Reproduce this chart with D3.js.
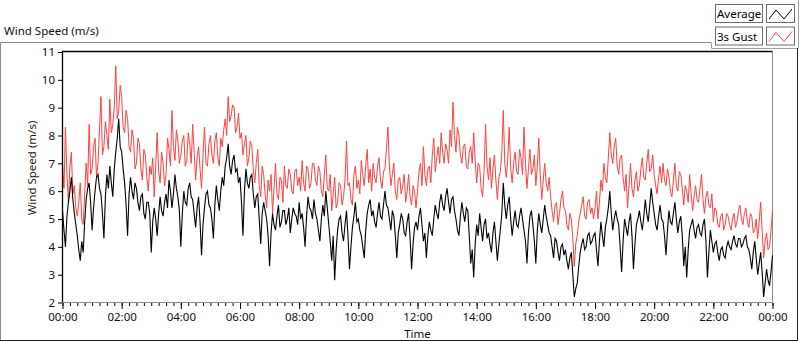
<!DOCTYPE html>
<html>
<head>
<meta charset="utf-8">
<script src="https://cdn.jsdelivr.net/npm/d3@7"></script>
<style>
  body { margin: 0; background: #fff; }
  svg text { font-family: "Noto Sans", "DejaVu Sans", sans-serif; }
</style>
</head>
<body>
<svg id="chart"></svg>
<script>
// readings every 3 minutes from 00:00 to 24:00 (10 per half hour)
var startTime = new Date(2000, 0, 1, 0, 0);
var stepMinutes = 3;

var gust = [
  7.0, 6.1, 8.3, 6.6, 5.6, 6.9, 7.4, 5.9, 6.2, 5.4,
  5.1, 5.6, 6.3, 5.0, 4.8, 5.9, 7.0, 6.2, 8.4, 6.6,
  6.8, 7.6, 7.9, 6.5, 7.0, 8.2, 9.4, 7.3, 7.6, 8.5,
  8.0, 7.5, 9.3, 8.1, 8.4, 9.0, 10.5, 8.6, 8.9, 9.8,
  9.4, 8.3, 8.1, 8.9, 8.6, 7.6, 7.4, 8.2, 7.9, 6.8,
  7.0, 7.9, 7.7, 6.8, 6.4, 7.5, 7.3, 6.5, 6.0, 6.9,
  6.6, 7.2, 5.8, 6.9, 8.1, 6.7, 6.3, 7.4, 7.0, 6.2,
  6.6, 7.9, 7.5, 6.9, 8.9, 7.6, 7.1, 8.2, 7.8, 7.0,
  7.3, 7.8, 8.0, 6.9, 7.1, 8.1, 7.7, 7.0, 8.4, 7.4,
  6.4, 7.2, 7.6, 6.8, 6.1, 7.3, 8.3, 7.0, 6.9, 7.7,
  8.0, 7.3, 7.0, 7.8, 8.1, 7.2, 6.9, 7.9, 7.6, 8.2,
  8.6, 8.0, 9.4, 8.5, 8.7, 9.1, 9.0, 8.1, 8.3, 8.8,
  7.9, 8.1, 7.3, 7.7, 8.0, 6.9, 7.2, 7.8, 7.6, 6.8,
  6.3, 7.0, 7.5, 6.2, 5.8, 6.9, 6.6, 5.9, 5.4, 6.4,
  6.0, 6.6, 5.2, 6.1, 7.0, 5.9, 5.7, 6.5, 6.4, 5.6,
  6.9, 6.2, 6.1, 6.8, 6.6, 6.0, 5.9, 6.7, 6.8, 6.2,
  6.5, 6.0, 7.1, 6.3, 6.0, 6.9, 6.8, 6.1, 6.3, 7.0,
  7.0, 6.4, 6.2, 6.9, 6.7, 6.0, 5.8, 6.6, 7.3, 6.1,
  6.0, 6.6, 5.3, 5.9, 6.5, 5.4, 5.6, 6.3, 6.2, 5.5,
  5.8, 6.4, 7.8, 6.2, 6.3, 5.7, 5.5, 6.6, 6.9, 6.1,
  6.4, 5.9, 7.1, 6.6, 6.2, 6.9, 7.5, 6.3, 6.8, 6.0,
  7.0, 6.5, 6.3, 6.9, 7.2, 6.4, 6.1, 6.7, 6.8, 7.5,
  8.3, 6.9, 6.2, 6.6, 7.0, 6.0, 5.7, 6.4, 6.5, 5.9,
  6.2, 6.6, 5.6, 6.0, 6.6, 5.8, 5.5, 6.2, 6.0, 5.4,
  6.0, 6.7, 7.0, 6.2, 7.6, 6.6, 6.2, 6.8, 6.9, 6.3,
  7.3, 7.9, 6.7, 7.2, 7.6, 7.0, 8.1, 7.4, 7.0, 7.7,
  7.5, 7.0, 8.2, 7.6, 9.2, 8.0, 7.4, 8.3, 8.0, 7.3,
  7.0, 7.6, 7.7, 6.9, 6.8, 7.4, 7.6, 7.0, 8.1, 7.1,
  6.3, 7.0, 6.9, 6.1, 5.8, 6.7, 8.4, 6.9, 6.4, 7.2,
  6.1, 6.8, 7.3, 6.4, 5.7, 6.5, 6.7, 7.4, 8.9, 7.0,
  6.5, 7.1, 8.3, 6.8, 6.3, 7.0, 7.4, 6.7, 6.6, 7.5,
  7.2, 6.6, 8.3, 7.0, 6.1, 6.8, 7.5, 6.6, 6.8, 7.3,
  6.2, 6.9, 7.9, 6.6, 5.7, 6.4, 7.0, 6.3, 6.0, 6.5,
  5.8, 5.3, 4.9, 5.5, 5.6, 4.8, 5.2, 5.7, 6.0, 5.4,
  5.3, 4.8, 4.6, 5.2, 5.0, 4.3, 3.3, 4.1, 4.4, 4.9,
  5.2, 5.5, 5.8, 5.1, 5.0, 5.6, 5.7, 5.2, 5.4, 5.0,
  5.4, 6.0, 5.0, 5.6, 6.4, 6.0, 7.0, 6.5, 6.3, 7.2,
  8.1, 7.3, 7.0, 7.6, 7.9, 6.9, 6.6, 7.2, 7.3, 6.5,
  6.0, 6.6, 5.4, 6.2, 7.0, 6.1, 5.8, 6.4, 6.7, 6.0,
  6.2, 6.8, 7.2, 6.5, 6.4, 7.0, 7.5, 6.7, 6.8, 7.3,
  6.6, 6.2, 5.9, 6.5, 6.9, 6.3, 7.0, 6.4, 6.2, 6.8,
  6.5, 6.0, 5.8, 6.4, 7.0, 6.2, 6.0, 6.7, 6.6, 6.1,
  5.5, 6.2, 6.0, 5.6, 6.6, 5.9, 5.3, 5.8, 6.2, 5.7,
  5.6, 6.1, 6.6, 5.7, 5.2, 5.8, 6.0, 5.5, 5.4, 5.9,
  4.9, 5.4, 5.3, 4.8, 4.7, 5.1, 5.2, 4.6, 4.8, 5.2,
  5.1, 4.8, 4.6, 5.0, 5.2, 4.7, 4.9, 5.3, 5.5, 5.0,
  4.8, 5.2, 5.4, 4.9, 4.7, 5.2, 5.1, 4.5, 4.6, 5.0,
  4.3, 4.9, 5.6, 4.6, 3.6, 4.2, 4.5, 3.9, 4.0, 4.6,
  5.3
];

var average = [
  5.3, 4.6, 4.0, 5.1, 5.6, 6.0, 6.5, 5.7, 5.2, 4.8,
  4.4, 3.9, 3.5, 4.2, 3.8, 4.9, 5.7, 6.1, 6.3, 5.6,
  4.6, 5.4, 6.0, 6.5, 6.6, 6.1, 5.9, 5.2, 4.3, 5.8,
  6.6, 6.1, 6.9, 6.3, 5.8, 6.8, 7.4, 7.9, 8.6, 7.6,
  7.4, 6.8, 6.3, 5.5, 4.4, 5.9, 6.5, 6.0, 5.7, 6.3,
  6.1, 5.6, 5.3, 5.8, 5.9, 5.2, 5.0, 5.6, 5.6, 5.2,
  3.8, 4.9, 5.4, 5.0, 4.4, 5.2, 5.8, 5.3, 5.1, 5.6,
  5.9, 5.4, 6.4, 6.0, 5.4, 5.9, 6.6, 6.1, 5.8, 5.3,
  4.0, 5.2, 6.0, 5.6, 5.5, 6.1, 6.3, 5.8, 5.7, 5.2,
  4.7, 5.4, 5.8, 4.9, 3.7, 4.8, 5.4, 5.9, 6.0, 5.5,
  5.4, 5.0, 4.3, 5.5, 6.2, 5.7, 5.3, 6.0, 6.5, 6.2,
  6.9, 7.2, 7.7, 6.9, 6.6, 7.1, 7.3, 6.7, 6.8, 6.3,
  6.5, 5.6, 4.4, 6.0, 6.8, 6.3, 6.1, 6.5, 6.6, 5.9,
  5.4, 5.8, 5.9, 5.0, 4.1, 5.2, 5.6, 5.3, 5.0, 4.4,
  3.3, 4.5, 5.2, 4.8, 4.6, 5.1, 5.5, 4.7, 4.9, 5.3,
  5.3, 4.8, 5.0, 5.4, 4.5, 5.0, 5.4, 5.2, 5.1, 4.8,
  5.6, 5.0, 5.2, 4.7, 4.0, 5.1, 5.8, 5.4, 5.3, 5.0,
  5.7, 5.2, 5.0, 4.6, 4.2, 5.0, 5.5, 5.1, 6.0, 5.4,
  4.8, 4.2, 3.5, 4.4, 2.8, 3.9, 4.6, 5.0, 5.1, 4.5,
  4.2, 4.8, 5.3, 4.4, 3.2, 4.0, 4.7, 5.1, 5.6, 4.9,
  5.0, 4.6, 4.4, 4.0, 3.6, 4.6, 5.2, 5.5, 5.7, 5.1,
  5.3, 4.9, 4.7, 5.2, 5.6, 5.1, 5.0, 5.5, 6.0, 5.5,
  5.4, 5.0, 4.6, 5.3, 5.1, 4.4, 3.6, 4.5, 4.8, 5.2,
  5.0, 4.5, 4.4, 4.9, 5.2, 4.3, 3.2, 4.1, 4.7, 4.9,
  4.6, 5.1, 5.4, 4.8, 4.2, 4.5, 3.6, 4.4, 4.9, 4.6,
  4.4, 5.0, 5.5, 5.2, 5.0, 5.6, 5.9, 5.5, 5.3, 5.8,
  6.1, 5.6, 5.2, 5.7, 5.8, 5.3, 5.0, 4.6, 4.4, 5.1,
  5.6, 5.2, 4.9, 5.4, 5.3, 4.4, 3.4, 3.9, 2.9, 4.1,
  4.8, 4.4, 5.2, 4.7, 4.2, 4.8, 5.0, 4.3, 4.5, 4.1,
  3.8, 4.5, 4.9, 4.2, 3.5, 4.1, 4.6, 5.2, 6.3, 5.5,
  5.0, 5.5, 5.8, 5.0, 4.4, 4.9, 5.3, 4.8, 4.7, 5.1,
  5.4, 5.0, 4.6, 4.2, 3.4, 4.5, 5.1, 5.3, 4.8, 4.2,
  3.4, 4.6, 5.2, 4.8, 4.5, 5.0, 5.5, 5.1, 4.8, 4.5,
  4.4, 4.0, 3.6, 4.3, 4.2, 3.8, 3.5, 4.0, 4.1, 3.7,
  3.9, 3.5, 3.2, 3.6, 3.8, 3.0, 2.2, 2.5, 2.7, 3.3,
  3.8, 4.1, 4.3, 3.9, 4.0, 4.4, 4.5, 4.1, 4.2, 4.4,
  4.5, 3.9, 3.3, 4.2, 4.9, 4.4, 4.0, 4.7, 5.0, 5.4,
  6.0, 5.2, 4.6, 5.0, 5.3, 5.0, 4.8, 4.0, 3.1, 4.2,
  5.0, 4.7, 4.4, 4.9, 5.2, 4.4, 3.2, 4.1, 4.8, 5.0,
  5.3, 4.9, 4.6, 5.1, 5.7, 5.2, 4.9, 5.5, 6.1, 5.6,
  5.2, 4.8, 4.6, 5.1, 5.5, 5.0, 4.9, 4.4, 3.7, 4.6,
  5.3, 4.9, 4.8, 5.2, 5.6, 5.0, 4.5, 4.9, 5.1, 4.4,
  3.3, 4.0, 2.9, 3.9, 4.6, 4.8, 5.0, 4.6, 4.3, 4.7,
  4.8, 4.5, 4.4, 4.8, 5.0, 4.2, 2.9, 3.8, 4.6, 4.2,
  3.8, 4.1, 4.2, 3.8, 3.5, 3.9, 4.0, 3.7, 3.6, 4.0,
  4.2, 4.0, 3.9, 4.2, 4.4, 4.1, 4.0, 4.3, 4.3, 4.0,
  4.1, 4.3, 4.4, 4.0, 3.9, 3.6, 3.2, 3.8, 4.2, 3.6,
  3.0, 3.4, 3.8, 3.1, 2.2, 2.7, 3.2, 2.8, 2.6, 3.1,
  3.7
];

var seriesNames = ['Average', '3s Gust'];
var yTicks = [2, 3, 4, 5, 6, 7, 8, 9, 10, 11];

var width = 800, height = 342;
var svg = d3.select('#chart').attr('width', width).attr('height', height);

svg.append('rect').attr('width', width).attr('height', height).attr('fill', '#fff');

// outer panel frame
svg.append('path').attr('d', 'M0.5,341 V42.5 H711').attr('fill', 'none').attr('stroke', '#8a8a8a');
svg.append('path').attr('d', 'M711.5,42.5 V48.5 H798.5 M798.5,0 V48').attr('fill', 'none').attr('stroke', '#a0a0a0');
svg.append('path').attr('d', 'M0,340.5 H797.5 V48').attr('fill', 'none').attr('stroke', '#222');

svg.append('text').attr('x', 4).attr('y', 35)
  .attr('font-size', 11.5).attr('fill', '#111')
  .text('Wind Speed (m/s)');

var plotLeft = 62.5, plotRight = 772.5, plotTop = 52, plotBottom = 302.5;

var x = d3.scaleTime()
  .domain([startTime, d3.timeDay.offset(startTime, 1)])
  .range([plotLeft, plotRight]);

var y = d3.scaleLinear().domain([2, 11]).range([plotBottom, plotTop]);

function toPoints(values) {
  return values.map(function(v, i) {
    return { t: d3.timeMinute.offset(startTime, i * stepMinutes), v: v };
  });
}

var line = d3.line()
  .x(function(d) { return x(d.t); })
  .y(function(d) { return y(d.v); });

// plot frame
svg.append('path').attr('d', 'M' + plotRight + ',' + plotTop + ' V' + plotBottom + ' H' + plotLeft)
  .attr('fill', 'none').attr('stroke', '#8c8c8c');

svg.append('path').datum(toPoints(gust))
  .attr('d', line).attr('fill', 'none')
  .attr('stroke', '#ff4040').attr('stroke-width', 1);

svg.append('path').datum(toPoints(average))
  .attr('d', line).attr('fill', 'none')
  .attr('stroke', '#000').attr('stroke-width', 1.1);

svg.append('path').attr('d', 'M' + plotLeft + ',' + plotBottom + ' V' + (plotTop - 0.5) + ' H' + plotRight)
  .attr('fill', 'none').attr('stroke', '#000').attr('stroke-width', 1.3);

// y axis
var yAxis = svg.append('g').attr('transform', 'translate(' + (plotLeft - 0.5) + ',0)')
  .call(d3.axisLeft(y).tickValues(yTicks).tickSize(4).tickPadding(3));
yAxis.select('.domain').remove();
yAxis.selectAll('text').attr('font-size', 11.5).attr('fill', '#101020')
  .style('font-family', '"Noto Sans", sans-serif');

// x axis: major every 2 h, minor every 15 min
var xMinor = svg.append('g').attr('transform', 'translate(0,' + (plotBottom + 0.5) + ')')
  .call(d3.axisBottom(x).ticks(d3.timeMinute.every(15)).tickSize(3).tickFormat(''));
xMinor.select('.domain').remove();

var xAxis = svg.append('g').attr('transform', 'translate(0,' + (plotBottom + 0.5) + ')')
  .call(d3.axisBottom(x).ticks(d3.timeHour.every(2)).tickSize(6).tickPadding(4)
    .tickFormat(d3.timeFormat('%H:%M')));
xAxis.select('.domain').remove();
xAxis.selectAll('text').attr('font-size', 11.5).attr('fill', '#101020')
  .style('font-family', '"Noto Sans", sans-serif');

svg.append('text').attr('x', (plotLeft + plotRight) / 2).attr('y', 338)
  .attr('text-anchor', 'middle').attr('font-size', 11.5).attr('fill', '#111')
  .text('Time');

svg.append('text')
  .attr('transform', 'translate(36,' + 168 + ') rotate(-90)')
  .attr('text-anchor', 'middle').attr('font-size', 11.5).attr('fill', '#2a2010')
  .text('Wind Speed (m/s)');

// legend
var legend = svg.append('g');
var legendColors = ['#000', '#ff4040'];
seriesNames.forEach(function(name, i) {
  var gy = 4 + i * 22.5;
  legend.append('rect').attr('x', 715.5).attr('y', gy + 0.5).attr('width', 47).attr('height', 18)
    .attr('fill', '#fff').attr('stroke', '#6a6a6a');
  legend.append('text').attr('x', 717).attr('y', gy + 14)
    .attr('font-size', 11.5).attr('fill', '#000').text(name);
  legend.append('rect').attr('x', 766.5).attr('y', gy + 0.5).attr('width', 28).attr('height', 18)
    .attr('fill', '#fff').attr('stroke', '#6a6a6a');
  legend.append('path')
    .attr('d', 'M769,' + (gy + 15) + ' L776,' + (gy + 6) + ' L784,' + (gy + 15) + ' L792,' + (gy + 5))
    .attr('fill', 'none').attr('stroke', legendColors[i]).attr('stroke-width', 1);
});
</script>
</body>
</html>
